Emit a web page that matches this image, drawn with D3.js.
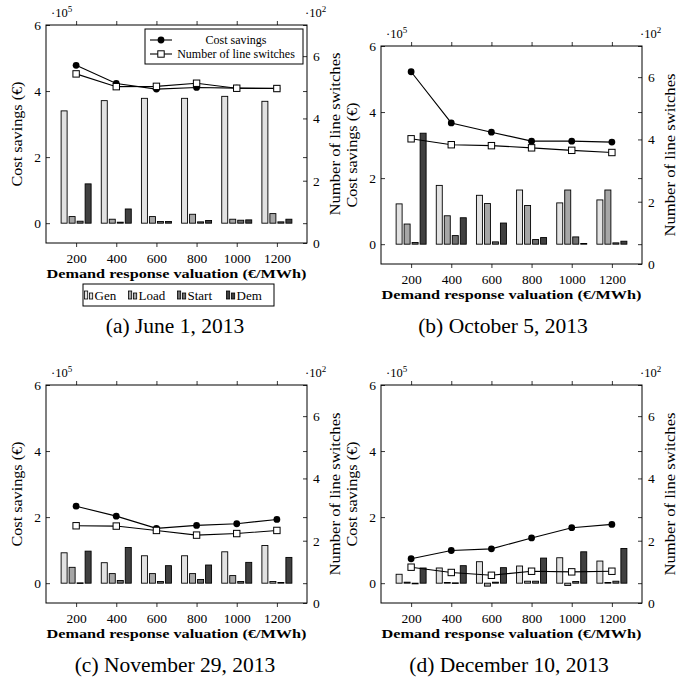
<!DOCTYPE html>
<html>
<head>
<meta charset="utf-8">
<script src="https://cdn.jsdelivr.net/npm/d3@7"></script>
<style>
  html, body { margin: 0; padding: 0; background: #fff; }
  svg { display: block; }
  svg text { font-family: "Liberation Serif", "Times New Roman", serif !important; fill: #000; }
</style>
</head>
<body>
<svg id="chart" width="682" height="679"></svg>
<script>
// Demand response valuation levels (€/MWh)
const valuations = [200, 400, 600, 800, 1000, 1200];
const barNames = ["Gen", "Load", "Start", "Dem"];
const barColors = ["#e2e2e2", "#a6a6a6", "#6e6e6e", "#404040"];
const leftTicks = [0, 2, 4, 6];
const rightTicks = [0, 2, 4, 6];
const lineLabels = ["Cost savings", "Number of line switches"];

// June 1, 2013  (bars and cost savings in 1e5 €, line switches in 1e2)
const genJun = [3.40, 3.71, 3.78, 3.78, 3.84, 3.69];
const loadJun = [0.20, 0.12, 0.20, 0.27, 0.12, 0.29];
const startJun = [0.06, 0.03, 0.05, 0.04, 0.09, 0.04];
const demJun = [1.19, 0.43, 0.05, 0.08, 0.10, 0.12];
const costJun = [4.78, 4.23, 4.06, 4.11, 4.09, 4.08];
const switchJun = [5.43, 5.02, 5.03, 5.13, 4.97, 4.96];

// October 5, 2013
const genOct = [1.22, 1.78, 1.48, 1.64, 1.25, 1.34];
const loadOct = [0.61, 0.86, 1.23, 1.17, 1.64, 1.64];
const startOct = [0.05, 0.26, 0.07, 0.14, 0.22, 0.04];
const demOct = [3.36, 0.80, 0.64, 0.20, 0.02, 0.09];
const costOct = [5.22, 3.67, 3.39, 3.12, 3.12, 3.09];
const switchOct = [4.02, 3.83, 3.80, 3.73, 3.65, 3.58];

// November 29, 2013
const genNov = [0.92, 0.62, 0.83, 0.83, 0.95, 1.14];
const loadNov = [0.48, 0.29, 0.29, 0.29, 0.23, 0.05];
const startNov = [0.01, 0.08, 0.05, 0.11, 0.05, 0.02];
const demNov = [0.97, 1.08, 0.53, 0.55, 0.63, 0.78];
const costNov = [2.33, 2.03, 1.66, 1.75, 1.80, 1.93];
const switchNov = [2.48, 2.47, 2.33, 2.18, 2.23, 2.33];

// December 10, 2013
const genDec = [0.27, 0.46, 0.65, 0.52, 0.77, 0.67];
const loadDec = [0.03, 0.02, -0.09, 0.06, -0.07, 0.02];
const startDec = [-0.02, 0.01, 0.03, 0.06, 0.05, 0.06];
const demDec = [0.46, 0.53, 0.47, 0.76, 0.95, 1.05];
const costDec = [0.74, 0.99, 1.04, 1.37, 1.68, 1.78];
const switchDec = [1.15, 0.98, 0.89, 1.02, 1.00, 1.02];

const captions = ["(a) June 1, 2013", "(b) October 5, 2013", "(c) November 29, 2013", "(d) December 10, 2013"];

// Panel layout
const W = 261, H = 218;
const panels = [
  { left: 46,  top: 25,  capX: 175, capY: 333, bars: [genJun, loadJun, startJun, demJun], cost: costJun, sw: switchJun, legend: true },
  { left: 381, top: 46,  capX: 503, capY: 333, bars: [genOct, loadOct, startOct, demOct], cost: costOct, sw: switchOct },
  { left: 46,  top: 385, capX: 175, capY: 672, bars: [genNov, loadNov, startNov, demNov], cost: costNov, sw: switchNov },
  { left: 381, top: 385, capX: 509, capY: 672, bars: [genDec, loadDec, startDec, demDec], cost: costDec, sw: switchDec }
];

const svg = d3.select("#chart");
const FONT = "'Liberation Serif', 'Times New Roman', serif";

const x = d3.scaleLinear().domain([50, 1350]).range([0, W]);
const yL = d3.scaleLinear().domain([-0.6, 6]).range([H, 0]);
const yR = d3.scaleLinear().domain([0, 7]).range([H, 0]);
const intFmt = d3.format("d");

const barShift = [-12, -4, 4, 12];
const barW = 6;

function styleAxis(g) {
  g.attr("font-family", FONT);
  g.select(".domain").remove();
  g.selectAll(".tick line").attr("stroke", "#000").attr("stroke-width", 0.8);
  g.selectAll(".tick text").attr("font-size", 13.5).style("font-family", FONT);
}

panels.forEach((p, pi) => {
  const g = svg.append("g").attr("transform", `translate(${p.left},${p.top})`);

  // bars
  const bars = g.append("g");
  p.bars.forEach((vals, si) => {
    bars.selectAll(null)
      .data(vals.map((v, i) => ({ v, x: valuations[i] })))
      .join("rect")
      .attr("x", d => x(d.x) + barShift[si] - barW / 2)
      .attr("y", d => Math.min(yL(d.v), yL(0)))
      .attr("width", barW)
      .attr("height", d => Math.max(Math.abs(yL(d.v) - yL(0)), 0.6))
      .attr("fill", barColors[si])
      .attr("stroke", "#000")
      .attr("stroke-width", 0.9);
  });

  // cost savings line (left axis)
  const costPts = valuations.map((v, i) => [x(v), yL(p.cost[i])]);
  g.append("path").attr("d", d3.line()(costPts))
    .attr("fill", "none").attr("stroke", "#000").attr("stroke-width", 1.1);
  g.selectAll(null).data(costPts).join("circle")
    .attr("cx", d => d[0]).attr("cy", d => d[1]).attr("r", 3.4).attr("fill", "#000");

  // line switches (right axis)
  const swPts = valuations.map((v, i) => [x(v), yR(p.sw[i])]);
  g.append("path").attr("d", d3.line()(swPts))
    .attr("fill", "none").attr("stroke", "#000").attr("stroke-width", 1.1);
  g.selectAll(null).data(swPts).join("rect")
    .attr("x", d => d[0] - 3.2).attr("y", d => d[1] - 3.2)
    .attr("width", 6.4).attr("height", 6.4)
    .attr("fill", "#fff").attr("stroke", "#000").attr("stroke-width", 1);

  // frame
  g.append("rect").attr("width", W).attr("height", H)
    .attr("fill", "none").attr("stroke", "#000").attr("stroke-width", 1);

  // axes
  g.append("g").attr("transform", `translate(0,${H})`)
    .call(d3.axisBottom(x).tickValues(valuations).tickFormat(intFmt).tickSize(4).tickPadding(6).tickSizeOuter(0))
    .call(styleAxis);
  g.append("g")
    .call(d3.axisTop(x).tickValues(valuations).tickSize(4).tickFormat("").tickSizeOuter(0))
    .call(styleAxis);
  g.append("g")
    .call(d3.axisLeft(yL).tickValues(leftTicks).tickFormat(intFmt).tickSize(-4).tickPadding(5).tickSizeOuter(0))
    .call(styleAxis);
  g.append("g").attr("transform", `translate(${W},0)`)
    .call(d3.axisRight(yL).tickValues(leftTicks).tickSize(-4).tickFormat("").tickSizeOuter(0))
    .call(styleAxis);
  g.append("g").attr("transform", `translate(${W},0)`)
    .call(d3.axisRight(yR).tickValues(rightTicks).tickFormat(intFmt).tickSize(-4).tickPadding(6).tickSizeOuter(0))
    .call(styleAxis);

  // scale multipliers
  const m1 = g.append("text").attr("x", 5).attr("y", -8).attr("font-size", 12.5);
  m1.append("tspan").text("·10");
  m1.append("tspan").attr("font-size", 9).attr("dy", -5).text("5");
  const m2 = g.append("text").attr("x", W - 2).attr("y", -8).attr("font-size", 12.5);
  m2.append("tspan").text("·10");
  m2.append("tspan").attr("font-size", 9).attr("dy", -5).text("2");

  // axis titles
  g.append("text")
    .attr("transform", `translate(-24,${H / 2}) rotate(-90)`)
    .attr("text-anchor", "middle").attr("font-size", 14)
    .attr("textLength", 105).attr("lengthAdjust", "spacingAndGlyphs")
    .text("Cost savings (€)");
  g.append("text")
    .attr("transform", `translate(${W + 33},${H / 2}) rotate(-90)`)
    .attr("text-anchor", "middle").attr("font-size", 14.5)
    .attr("textLength", 163).attr("lengthAdjust", "spacingAndGlyphs")
    .text("Number of line switches");
  g.append("text")
    .attr("x", W / 2).attr("y", H + 35)
    .attr("text-anchor", "middle").attr("font-size", 13.5).attr("font-weight", "bold")
    .attr("textLength", 260).attr("lengthAdjust", "spacingAndGlyphs")
    .text("Demand response valuation (€/MWh)");

  // caption
  svg.append("text")
    .attr("x", p.capX).attr("y", p.capY)
    .attr("text-anchor", "middle").attr("font-size", 21.5)
    .text(captions[pi]);

  if (p.legend) {
    // line legend
    const lg = g.append("g").attr("transform", "translate(99,4)");
    lg.append("rect").attr("width", 158).attr("height", 35)
      .attr("fill", "#fff").attr("stroke", "#000").attr("stroke-width", 1);
    lineLabels.forEach((lab, i) => {
      const yy = 11 + i * 14;
      lg.append("line").attr("x1", 5).attr("x2", 27).attr("y1", yy).attr("y2", yy)
        .attr("stroke", "#000").attr("stroke-width", 1.1);
      if (i === 0) {
        lg.append("circle").attr("cx", 16).attr("cy", yy).attr("r", 3.4).attr("fill", "#000");
      } else {
        lg.append("rect").attr("x", 16 - 3.2).attr("y", yy - 3.2).attr("width", 6.4).attr("height", 6.4)
          .attr("fill", "#fff").attr("stroke", "#000");
      }
      lg.append("text").attr("x", 91).attr("y", yy + 4).attr("text-anchor", "middle")
        .attr("font-size", 12).text(lab);
    });

    // bar legend below the plot
    const bl = svg.append("g").attr("transform", "translate(83,284)");
    bl.append("rect").attr("width", 191).attr("height", 22)
      .attr("fill", "#fff").attr("stroke", "#000").attr("stroke-width", 1);
    const iconX = [1, 45, 94, 143];
    barNames.forEach((name, i) => {
      const ix = iconX[i];
      bl.append("rect").attr("x", ix + 0.5).attr("y", 7).attr("width", 3.2).attr("height", 8)
        .attr("fill", barColors[i]).attr("stroke", "#000").attr("stroke-width", 0.8);
      bl.append("rect").attr("x", ix + 5.5).attr("y", 9).attr("width", 3.2).attr("height", 6)
        .attr("fill", barColors[i]).attr("stroke", "#000").attr("stroke-width", 0.8);
      bl.append("text").attr("x", ix + 10.5).attr("y", 15.5).attr("font-size", 13).text(name);
    });
  }
});
</script>
</body>
</html>
